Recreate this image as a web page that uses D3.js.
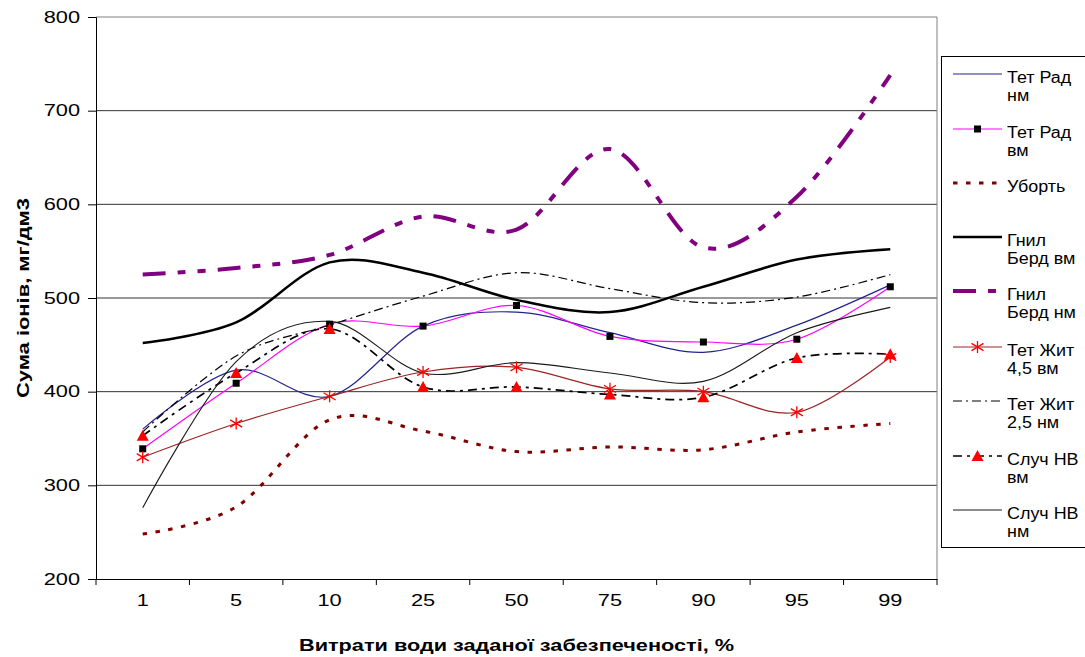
<!DOCTYPE html>
<html>
<head>
<meta charset="utf-8">
<script src="https://cdn.jsdelivr.net/npm/d3@7"></script>
<style>
  body { margin: 0; background: #fff; }
  svg { font-family: Arial, "Liberation Sans", sans-serif; }
</style>
</head>
<body>
<div id="chart"></div>
<script>
// categories (x axis) and y ticks
const categories = ["1", "5", "10", "25", "50", "75", "90", "95", "99"];
const yTicks = [200, 300, 400, 500, 600, 700, 800];

// series values
const tetRadNm = [360, 423, 395, 470, 485, 463, 442, 471, 514];
const tetRadVm = [339, 409, 472, 470, 492, 459, 453, 456, 512];
const ubort = [248, 277, 370, 358, 336, 341, 338, 357, 366];
const gnilBerdVm = [452, 474, 538, 527, 498, 485, 512, 541, 552];
const gnilBerdNm = [525, 532, 546, 587, 573, 659, 554, 608, 738];
const tetZhyt45Vm = [330, 366, 395, 421, 426, 403, 400, 378, 437];
const tetZhyt25Nm = [357, 438, 471, 502, 527, 510, 495, 501, 525];
const sluchNvVm = [353, 420, 467, 405, 405, 397, 394, 436, 440];
const sluchNvNm = [276, 432, 475, 420, 431, 420, 411, 463, 490];

const seriesNames = [
  ["Тет Рад", "нм"], ["Тет Рад", "вм"], ["Уборть"], ["Гнил", "Берд вм"],
  ["Гнил", "Берд нм"], ["Тет Жит", "4,5 вм"], ["Тет Жит", "2,5 нм"],
  ["Случ НВ", "вм"], ["Случ НВ", "нм"]
];

// styles for each series (same order)
const series = [
  { values: tetRadNm, color: "#23238f", width: 1.2, dash: null, marker: null },
  { values: tetRadVm, color: "#ff00ff", width: 1.2, dash: null, marker: "square" },
  { values: ubort, color: "#800000", width: 3, dash: "4.5,8.5", marker: null },
  { values: gnilBerdVm, color: "#000", width: 2.5, dash: null, marker: null },
  { values: gnilBerdNm, color: "#800080", width: 4, dash: "23,12,8,12,8,12", marker: null },
  { values: tetZhyt45Vm, color: "#9b2424", width: 1.2, dash: null, marker: "star" },
  { values: tetZhyt25Nm, color: "#000", width: 1.2, dash: "9,4,2,4", marker: null },
  { values: sluchNvVm, color: "#000", width: 1.7, dash: "9,5,3,5", marker: "triangle" },
  { values: sluchNvNm, color: "#1a1a1a", width: 1.1, dash: null, marker: null }
];

const W = 1085, H = 657;
const margin = { top: 17, right: 148, bottom: 78, left: 96 },
  width = W - margin.left - margin.right,
  height = H - margin.top - margin.bottom;

// text in the original is drawn wider than Arial, widen it
function stretch(sel, k) {
  sel.each(function () {
    const l = this.getComputedTextLength();
    this.setAttribute("textLength", l * k);
    this.setAttribute("lengthAdjust", "spacingAndGlyphs");
  });
}

const svg = d3.select("#chart").append("svg")
  .attr("width", W).attr("height", H);

const g = svg.append("g")
  .attr("transform", `translate(${margin.left},${margin.top})`);

const x = d3.scaleBand().domain(categories).range([0, width]).padding(0);
const y = d3.scaleLinear().domain([200, 800]).range([height, 0]);
const cx = (c) => x(c) + x.bandwidth() / 2;

// gridlines
g.append("g")
  .selectAll("line")
  .data(yTicks.filter((t) => t > 200 && t < 800))
  .join("line")
  .attr("x1", 0).attr("x2", width)
  .attr("y1", (d) => y(d)).attr("y2", (d) => y(d))
  .attr("stroke", "#333").attr("stroke-width", 1);

// top / right border of plot area
g.append("path")
  .attr("d", `M0,${y(800)}H${width}V${height}`)
  .attr("fill", "none").attr("stroke", "#808080").attr("stroke-width", 1);

// Y axis
const yAxis = g.append("g")
  .call(d3.axisLeft(y).tickValues(yTicks).tickSize(8).tickPadding(8));
yAxis.selectAll("text").style("font-size", "16px").attr("fill", "#000");
yAxis.select(".domain").attr("stroke", "#000");
stretch(yAxis.selectAll("text"), 1.36);

// X axis (labels centered, ticks between categories)
const xAxis = g.append("g")
  .attr("transform", `translate(0,${height})`)
  .call(d3.axisBottom(x).tickSize(0).tickPadding(16));
xAxis.selectAll("text").style("font-size", "16px").attr("fill", "#000");
xAxis.select(".domain").attr("stroke", "#000");
stretch(xAxis.selectAll("text"), 1.36);
xAxis.append("g")
  .selectAll("line")
  .data(categories.concat(["end"]))
  .join("line")
  .attr("x1", (d) => (d === "end" ? width : x(d)))
  .attr("x2", (d) => (d === "end" ? width : x(d)))
  .attr("y1", 0).attr("y2", 6)
  .attr("stroke", "#000");

// axis titles
const xTitle = svg.append("text")
  .attr("x", margin.left + width / 2).attr("y", 651)
  .attr("text-anchor", "middle")
  .style("font-size", "17px").style("font-weight", "bold")
  .text("Витрати води заданої забезпеченості, %");
xTitle.attr("textLength", 435).attr("lengthAdjust", "spacingAndGlyphs");

const yTitle = svg.append("text")
  .attr("transform", `translate(29,${margin.top + height / 2}) rotate(-90)`)
  .attr("text-anchor", "middle")
  .style("font-size", "17px").style("font-weight", "bold")
  .text("Сума іонів, мг/дм3");
yTitle.attr("textLength", 200).attr("lengthAdjust", "spacingAndGlyphs");

// lines
const line = d3.line()
  .x((d, i) => cx(categories[i]))
  .y((d) => y(d))
  .curve(d3.curveCardinal.tension(0));

function drawMarker(sel, type, px, py) {
  if (type === "square") {
    sel.append("rect").attr("x", px - 3.5).attr("y", py - 3.5)
      .attr("width", 7).attr("height", 7).attr("fill", "#000");
  } else if (type === "triangle") {
    sel.append("path")
      .attr("d", `M${px},${py - 6}L${px + 6},${py + 5}L${px - 6},${py + 5}Z`)
      .attr("fill", "#ff0000");
  } else if (type === "star") {
    const r = 6;
    sel.append("path")
      .attr("d", `M${px},${py - r}V${py + r}M${px - r},${py - r * 0.6}L${px + r},${py + r * 0.6}M${px - r},${py + r * 0.6}L${px + r},${py - r * 0.6}`)
      .attr("stroke", "#ff0000").attr("stroke-width", 1.3).attr("fill", "none");
  }
}

series.forEach((s) => {
  g.append("path")
    .datum(s.values)
    .attr("d", line)
    .attr("fill", "none")
    .attr("stroke", s.color)
    .attr("stroke-width", s.width)
    .attr("stroke-dasharray", s.dash);
});
series.forEach((s) => {
  if (!s.marker) return;
  const mg = g.append("g");
  s.values.forEach((v, i) => drawMarker(mg, s.marker, cx(categories[i]), y(v)));
});

// legend
const legend = svg.append("g");
legend.append("rect")
  .attr("x", 941.5).attr("y", 56.5).attr("width", 150).attr("height", 491)
  .attr("fill", "#fff").attr("stroke", "#000");

const legendY = [74, 129, 183, 237, 291, 347, 401, 456, 510];
series.forEach((s, i) => {
  const ly = legendY[i];
  legend.append("line")
    .attr("x1", 953).attr("x2", 1002).attr("y1", ly).attr("y2", ly)
    .attr("stroke", s.color).attr("stroke-width", s.width)
    .attr("stroke-dasharray", s.dash);
  if (s.marker) drawMarker(legend, s.marker, 977.5, ly);
  seriesNames[i].forEach((n, j) => {
    legend.append("text")
      .attr("x", 1007).attr("y", ly + 9 + j * 18)
      .style("font-size", "16px")
      .text(n)
      .call(stretch, 1.12);
  });
});
</script>
</body>
</html>
